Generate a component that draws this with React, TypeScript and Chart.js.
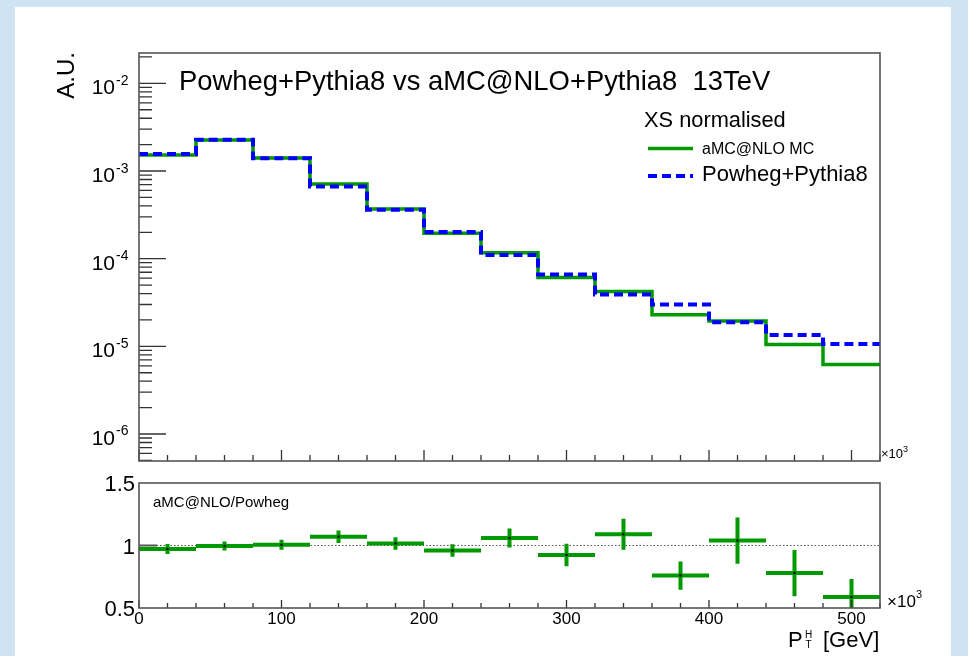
import React, { useEffect, useRef } from "react";
import { Chart, registerables } from "chart.js";

Chart.register(...registerables);

// ---------------- data ----------------
const binEdges = [0, 40, 80, 120, 160, 200, 240, 280, 320, 360, 400, 440, 480, 520];
const binCenters = [20, 60, 100, 140, 180, 220, 260, 300, 340, 380, 420, 460, 500];
const amcValues = [1.52e-3, 2.26e-3, 1.41e-3, 7.1e-4, 3.68e-4, 1.95e-4, 1.17e-4, 6.1e-5, 4.23e-5, 2.29e-5, 1.95e-5, 1.05e-5, 6.2e-6];
const powhegValues = [1.56e-3, 2.27e-3, 1.4e-3, 6.64e-4, 3.62e-4, 2.02e-4, 1.1e-4, 6.6e-5, 3.9e-5, 3.0e-5, 1.88e-5, 1.35e-5, 1.06e-5];
const ratioValues = [0.972, 0.996, 1.006, 1.07, 1.017, 0.96, 1.06, 0.925, 1.09, 0.76, 1.04, 0.78, 0.588];
const ratioErrors = [0.04, 0.036, 0.04, 0.05, 0.05, 0.05, 0.076, 0.09, 0.124, 0.113, 0.185, 0.185, 0.144];

const xTickValues = [0, 100, 200, 300, 400, 500];
const xTickLabels = ["0", "100", "200", "300", "400", "500"];
const yTopExponents = [-6, -5, -4, -3, -2];
const ratioTickValues = [0.5, 1, 1.5];
const ratioTickLabels = ["0.5", "1", "1.5"];

const titleText = "Powheg+Pythia8 vs aMC@NLO+Pythia8  13TeV";
const legendHeader = "XS normalised";
const amcLabel = "aMC@NLO MC";
const powhegLabel = "Powheg+Pythia8";
const ratioLabel = "aMC@NLO/Powheg";

// ---------------- style ----------------
const FONT = '"Liberation Sans", Arial, Helvetica, sans-serif';
const GREEN = "#009a00";
const BLUE = "#0000ff";
const W = 968;
const H = 656;

function txt(ctx: CanvasRenderingContext2D, s: string, x: number, y: number, size: number, align: CanvasTextAlign = "left", baseline: CanvasTextBaseline = "alphabetic", color = "#000") {
  ctx.font = `${size}px ${FONT}`;
  ctx.textAlign = align;
  ctx.textBaseline = baseline;
  ctx.fillStyle = color;
  ctx.fillText(s, x, y);
}

function histPoints(vals: number[]) {
  const pts: { x: number; y: number }[] = vals.map((v, i) => ({ x: binEdges[i], y: v }));
  pts.push({ x: binEdges[binEdges.length - 1], y: vals[vals.length - 1] });
  return pts;
}

const topPlugin = {
  id: "topDecor",
  afterDraw(chart: any) {
    const { ctx, chartArea: a, scales } = chart;
    const xs = scales.x;
    const ys = scales.y;
    ctx.save();
    // ticks
    ctx.strokeStyle = "#333";
    ctx.lineWidth = 1.3;
    ctx.beginPath();
    for (let e = -8; e <= 0; e++) {
      for (let m = 1; m <= 9; m++) {
        const v = m * Math.pow(10, e);
        if (v < ys.min || v > ys.max) continue;
        const y = ys.getPixelForValue(v);
        const len = m === 1 ? 27 : 13;
        ctx.moveTo(a.left, y);
        ctx.lineTo(a.left + len, y);
      }
    }
    for (let v = 0; v <= 520; v += 20) {
      const x = xs.getPixelForValue(v);
      const len = v % 100 === 0 ? 11 : 6;
      ctx.moveTo(x, a.bottom);
      ctx.lineTo(x, a.bottom - len);
    }
    ctx.stroke();
    // frame
    ctx.strokeStyle = "#555";
    ctx.lineWidth = 1.6;
    ctx.strokeRect(a.left, a.top, a.right - a.left, a.bottom - a.top);

    // y labels
    yTopExponents.forEach((e) => {
      const y = ys.getPixelForValue(Math.pow(10, e));
      txt(ctx, "10", 115, y + 11, 21, "right");
      txt(ctx, String(e), 116, y + 1.5, 14, "left");
    });

    // y title
    ctx.save();
    ctx.translate(74, 52);
    ctx.rotate(-Math.PI / 2);
    txt(ctx, "A.U.", 0, 0, 24, "right");
    ctx.restore();

    // x10^3
    txt(ctx, "\u00d710", 881, 458, 13, "left");
    txt(ctx, "3", 903, 452, 9, "left");

    // title
    txt(ctx, titleText, 179, 90, 27.4, "left");

    // legend
    txt(ctx, legendHeader, 644, 127, 21.8, "left");
    ctx.lineCap = "butt";
    ctx.strokeStyle = GREEN;
    ctx.lineWidth = 3.5;
    ctx.beginPath();
    ctx.moveTo(648, 148.5);
    ctx.lineTo(693, 148.5);
    ctx.stroke();
    txt(ctx, amcLabel, 702, 153.5, 16, "left");
    ctx.strokeStyle = BLUE;
    ctx.lineWidth = 4;
    ctx.setLineDash([9, 5]);
    ctx.beginPath();
    ctx.moveTo(648, 176);
    ctx.lineTo(693, 176);
    ctx.stroke();
    ctx.setLineDash([]);
    txt(ctx, powhegLabel, 702, 181, 22, "left");
    ctx.restore();
  },
};

const bottomPlugin = {
  id: "bottomDecor",
  beforeDatasetsDraw(chart: any) {
    const { ctx, chartArea: a, scales } = chart;
    const y1 = scales.y.getPixelForValue(1);
    ctx.save();
    ctx.strokeStyle = "#555";
    ctx.lineWidth = 1;
    ctx.setLineDash([1.5, 2]);
    ctx.beginPath();
    ctx.moveTo(a.left, y1);
    ctx.lineTo(a.right, y1);
    ctx.stroke();
    ctx.restore();
  },
  afterDraw(chart: any) {
    const { ctx, chartArea: a, scales } = chart;
    const xs = scales.x;
    const ys = scales.y;
    ctx.save();
    ctx.strokeStyle = "#333";
    ctx.lineWidth = 1.3;
    ctx.beginPath();
    for (let v = 0; v <= 520; v += 20) {
      const x = xs.getPixelForValue(v);
      const len = v % 100 === 0 ? 8 : 5;
      ctx.moveTo(x, a.bottom);
      ctx.lineTo(x, a.bottom - len);
    }
    ctx.stroke();
    // y tick at 1
    ctx.strokeStyle = "#555";
    ctx.lineWidth = 2;
    ctx.beginPath();
    const y1 = ys.getPixelForValue(1);
    ctx.moveTo(a.left, y1);
    ctx.lineTo(a.left + 18, y1);
    ctx.stroke();
    // frame
    ctx.strokeStyle = "#555";
    ctx.lineWidth = 1.6;
    ctx.strokeRect(a.left, a.top, a.right - a.left, a.bottom - a.top);

    // y labels
    ratioTickValues.forEach((v, i) => {
      const y = ys.getPixelForValue(v);
      txt(ctx, ratioTickLabels[i], 135, y + 8, 22, "right");
    });
    // x labels
    xTickValues.forEach((v, i) => {
      const x = xs.getPixelForValue(v);
      txt(ctx, xTickLabels[i], x, 624, 17, "center");
    });
    // x10^3
    txt(ctx, "\u00d710", 887, 607, 17, "left");
    txt(ctx, "3", 916, 598, 11, "left");
    // ratio label
    txt(ctx, ratioLabel, 153, 507, 15, "left");
    // axis title
    txt(ctx, "P", 788, 647, 22, "left");
    txt(ctx, "H", 805, 637.5, 10, "left");
    txt(ctx, "T", 805.5, 648, 10, "left");
    txt(ctx, "[GeV]", 823, 647, 22, "left");
    ctx.restore();
  },
};

export default function App() {
  const topRef = useRef<HTMLCanvasElement>(null);
  const botRef = useRef<HTMLCanvasElement>(null);

  useEffect(() => {
    const hBars: any[] = [];
    const vBars: any[] = [];
    const centers: any[] = [];
    binCenters.forEach((c, i) => {
      const r = ratioValues[i];
      const e = ratioErrors[i];
      hBars.push({ x: binEdges[i], y: r }, { x: binEdges[i + 1], y: r }, { x: binEdges[i + 1], y: null });
      vBars.push({ x: c, y: r - e }, { x: c, y: r + e }, { x: c, y: null });
      centers.push({ x: c, y: r });
    });

    const common = {
      responsive: false,
      animation: false as const,
      events: [] as any[],
      plugins: { legend: { display: false }, tooltip: { enabled: false }, title: { display: false } },
    };

    const top = new Chart(topRef.current!, {
      type: "line",
      data: {
        datasets: [
          {
            label: powhegLabel,
            data: histPoints(powhegValues),
            stepped: "before",
            borderColor: BLUE,
            borderWidth: 4,
            borderDash: [9, 5],
            pointRadius: 0,
            fill: false,
            order: 0,
          } as any,
          {
            label: amcLabel,
            data: histPoints(amcValues),
            stepped: "before",
            borderColor: GREEN,
            borderWidth: 3.5,
            pointRadius: 0,
            fill: false,
            order: 1,
          } as any,
        ],
      },
      options: {
        ...common,
        layout: { padding: { left: 139, right: W - 880, top: 53, bottom: H - 461 } },
        scales: {
          x: { type: "linear", min: 0, max: 520, display: false },
          y: { type: "logarithmic", min: 4.92e-7, max: 0.0222, display: false },
        },
      } as any,
      plugins: [topPlugin],
    });

    const bottom = new Chart(botRef.current!, {
      type: "line",
      data: {
        datasets: [
          { data: centers, showLine: false, pointRadius: 1.2, pointBackgroundColor: "#000", pointBorderWidth: 0, order: 0 } as any,
          { data: hBars, borderColor: GREEN, borderWidth: 4, pointRadius: 0, spanGaps: false, borderCapStyle: "butt", order: 1 } as any,
          { data: vBars, borderColor: GREEN, borderWidth: 4, pointRadius: 0, spanGaps: false, borderCapStyle: "butt", order: 2 } as any,
        ],
      },
      options: {
        ...common,
        layout: { padding: { left: 139, right: W - 880, top: 483, bottom: H - 608 } },
        scales: {
          x: { type: "linear", min: 0, max: 520, display: false },
          y: { type: "linear", min: 0.5, max: 1.5, display: false },
        },
      } as any,
      plugins: [bottomPlugin],
    });

    return () => {
      top.destroy();
      bottom.destroy();
    };
  }, []);

  return (
    <div style={{ position: "fixed", left: 0, top: 0, width: W, height: H, background: "#cfe4f3", overflow: "hidden" }}>
      <div style={{ position: "absolute", left: 15, top: 7, width: 936, height: H - 7, background: "#ffffff" }} />
      <canvas ref={topRef} width={W} height={H} style={{ position: "absolute", left: 0, top: 0, width: W, height: H }} />
      <canvas ref={botRef} width={W} height={H} style={{ position: "absolute", left: 0, top: 0, width: W, height: H }} />
    </div>
  );
}
